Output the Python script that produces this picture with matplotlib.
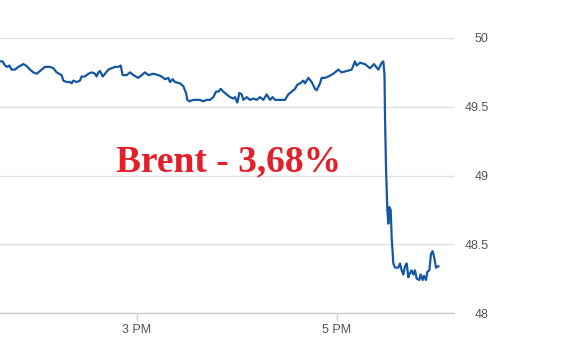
import numpy as np
import matplotlib
matplotlib.use('Agg')
import matplotlib.pyplot as plt

# minutes after 1 PM, and Brent price
minutes = [37.8, 39.4, 40.8, 42.2, 43.4, 44.8, 46.8, 48.8, 51.8, 53.4, 55.8, 57.8, 59.8, 61.8,
           62.8, 63.8, 64.8, 66.8, 67.8, 69.8, 71.8, 74.8, 75.8, 77.8, 79.8, 80.8, 81.8, 83.8,
           85.8, 86.8, 88.8, 90.8, 92.8, 94.8, 95.8, 96.8, 97.8,
           99.4, 100.8, 102.8, 104.8, 106.8, 108.8, 110.2, 111.4, 113.8, 115.8, 117.8, 120.8,
           122.8, 124.8, 126.8, 129.8, 132.8, 134.8, 136.8, 138.8, 139.8, 141.4, 142.8, 145.8,
           147.8, 149.4, 150.2, 151.4, 153.8, 157.8,
           159.8, 161.8, 163.8, 165.8, 167.4, 168.8, 170.2, 171.8, 173.8, 175.8, 177.8, 178.8,
           180.2, 181.4, 182.8, 183.8, 185.8, 187.8, 189.8, 191.8, 193.8, 195.8, 197.8, 199.8,
           201.4, 202.8, 204.8, 206.8, 208.8, 210.8, 212.8, 214.8, 216.2, 217.8,
           219.8, 220.8, 222.8, 224.8, 226.8, 227.8, 229.8, 230.8, 232.8, 234.8, 237.8, 240.8,
           242.8, 245.8, 248.8, 250.8, 251.8, 253.8, 256.8, 259.8, 262.2, 264.8, 266.8, 267.8,
           268.5, 268.8, 269.4, 270.2, 270.8, 271.4, 272.2, 272.8, 273.8, 274.8, 276.8, 277.8,
           278.8, 279.8, 280.8, 281.8, 282.8, 283.8, 284.8, 285.8, 286.8, 287.8, 289.4, 290.2,
           291.4, 292.2, 293.4, 294.2, 295.4, 296.4, 297.4, 298.4, 299.4, 300.8]
price = [49.83, 49.83, 49.80, 49.79, 49.80, 49.77, 49.77, 49.79, 49.81, 49.80, 49.77, 49.75,
         49.74, 49.76, 49.77, 49.78, 49.79, 49.79, 49.79, 49.78, 49.75, 49.73, 49.69, 49.68,
         49.68, 49.67, 49.69, 49.68, 49.69, 49.72, 49.72, 49.74, 49.75, 49.74, 49.72, 49.75,
         49.76,
         49.72, 49.74, 49.77, 49.78, 49.79, 49.79, 49.80, 49.73, 49.73, 49.75, 49.73, 49.71,
         49.73, 49.75, 49.73, 49.74, 49.73, 49.72, 49.70, 49.71, 49.68, 49.70, 49.68, 49.67,
         49.65, 49.60, 49.55, 49.54, 49.55, 49.55,
         49.54, 49.55, 49.55, 49.57, 49.61, 49.61, 49.63, 49.61, 49.59, 49.57, 49.56, 49.57,
         49.53, 49.60, 49.59, 49.55, 49.57, 49.55, 49.56, 49.55, 49.57, 49.55, 49.59, 49.55,
         49.57, 49.55, 49.55, 49.55, 49.55, 49.59, 49.61, 49.63, 49.66, 49.67,
         49.69, 49.67, 49.71, 49.68, 49.63, 49.62, 49.67, 49.71, 49.71, 49.72, 49.74, 49.77,
         49.75, 49.76, 49.77, 49.83, 49.80, 49.82, 49.81, 49.78, 49.81, 49.77, 49.82, 49.83,
         49.73, 49.43, 49.06, 48.75, 48.65, 48.77, 48.75, 48.55, 48.36, 48.33, 48.33, 48.36,
         48.31, 48.28, 48.34, 48.36, 48.26, 48.29, 48.31, 48.28, 48.31, 48.25, 48.24, 48.28,
         48.24, 48.27, 48.24, 48.30, 48.31, 48.43, 48.45, 48.40, 48.33, 48.34]

x_ticks = [120, 240]
x_labels = ['3 PM', '5 PM']
y_ticks = [48, 48.5, 49, 49.5, 50]
y_labels = ['48', '48.5', '49', '49.5', '50']

plt.rcParams['font.family'] = ['Liberation Sans Narrow', 'Liberation Sans', 'DejaVu Sans']

fig = plt.figure(figsize=(5.64, 3.57), dpi=100)
ax = fig.add_axes([0, 44 / 357, 454 / 564, 313 / 357])

ax.plot(minutes, price, color='#1458a3', linewidth=1.6, solid_joinstyle='round')

ax.set_xlim(37.8, 310.2)
ax.set_ylim(48, 50 + 38 / 137.5)

# grid + axes styling
for s in ['top', 'left', 'right']:
    ax.spines[s].set_visible(False)
ax.spines['bottom'].set_color('#ccd0d6')
ax.spines['bottom'].set_linewidth(1)
ax.set_yticks(y_ticks)
ax.set_yticklabels(y_labels)
ax.yaxis.tick_right()
ax.grid(axis='y', color='#e0e0e0', linewidth=1)
ax.set_axisbelow(True)
ax.tick_params(axis='y', length=0, pad=25, labelsize=9, labelcolor='#555555')
for lab in ax.get_yticklabels():
    lab.set_horizontalalignment('right')

ax.set_xticks(x_ticks)
ax.set_xticklabels(x_labels)
ax.tick_params(axis='x', length=5, width=1, color='#ccd0d6', labelsize=9,
               labelcolor='#555555', pad=3)

fig.text(116 / 564, 1 - 171 / 357, 'Brent - 3,68%', color='#e3202a', fontsize=27,
         fontweight='bold', family='Liberation Serif', ha='left', va='baseline')

fig.savefig('out.png', dpi=100)
